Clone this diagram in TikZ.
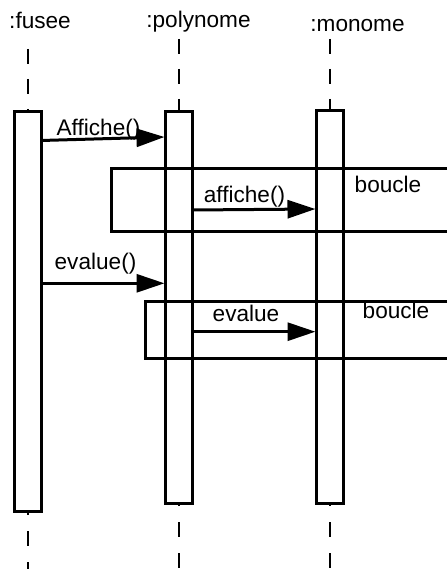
\documentclass[tikz,border=0pt]{standalone}
\usepackage{fontspec}
\setmainfont{Liberation Sans}
\usetikzlibrary{arrows.meta}
\begin{document}
\begin{tikzpicture}[x=1pt,y=-1pt,
  lbl/.style={font=\fontsize{22.6}{26}\selectfont, inner sep=0pt, anchor=base},
  life/.style={line width=2.4pt, dash pattern=on 15pt off 15pt},
  lifelow/.style={line width=2.4pt, dash pattern=on 15pt off 16pt},
  act/.style={draw, line width=3pt, fill=white, inner sep=0pt},
  msg/.style={line width=3pt, -{Triangle[length=28pt,width=18pt]}},
  loopbox/.style={line width=3pt}]
\useasboundingbox (0,0) rectangle (447,569);
\fill[white] (0,0) rectangle (447,569);
% titles
\node[lbl] (tf) at (40,28.5) {:fusee};
\node[lbl] (tp) at (198.5,28) {:polynome};
\node[lbl] (tm) at (357.5,31.5) {:monome};
% lifelines
\coordinate (lf1) at (27.7,49);   \coordinate (lf2) at (27.7,112);
\coordinate (lf3) at (27.7,500);  \coordinate (lf4) at (27.7,569);
\coordinate (lp1) at (179,39);    \coordinate (lp2) at (179,111);
\coordinate (lp3) at (179,491);   \coordinate (lp4) at (179,569);
\coordinate (lm1) at (330,39);    \coordinate (lm2) at (330,110);
\coordinate (lm3) at (330,491);   \coordinate (lm4) at (330,569);
\draw[life] (lf1) -- (lf2);
\draw[lifelow] (lf3) -- (lf4);
\draw[life] (lp1) -- (lp2);
\draw[lifelow] (lp3) -- (lp4);
\draw[life] (lm1) -- (lm2);
\draw[lifelow] (lm3) -- (lm4);
% activation boxes
\node[act, minimum width=26.7pt, minimum height=399pt] (fb) at (27.65,311.5) {};
\node[act, minimum width=26.8pt, minimum height=391.8pt] (pb) at (178.9,307.4) {};
\node[act, minimum width=26.5pt, minimum height=393pt] (mb) at (330.05,307) {};
% loop boxes
\draw[loopbox] (447,169) -- (111.5,169) -- (111.5,231.7) -- (447,231.7);
\draw[loopbox] (447,301.7) -- (145.7,301.7) -- (145.7,358.3) -- (447,358.3);
\node[lbl] (b1) at (388,193) {boucle};
\node[lbl] (b2) at (396,318) {boucle};
% messages
\coordinate (m1s) at (41,140.5);  \coordinate (m1e) at (164.5,137);
\coordinate (m2s) at (192.3,210); \coordinate (m2e) at (315.5,209);
\coordinate (m3s) at (41,283.3);  \coordinate (m3e) at (164.5,283.3);
\coordinate (m4s) at (192.3,331.7); \coordinate (m4e) at (315.5,331.7);
\draw[msg] (m1s) -- (m1e);
\draw[msg] (m2s) -- (m2e);
\draw[msg] (m3s) -- (m3e);
\draw[msg] (m4s) -- (m4e);
\node[lbl] (l1) at (98.5,136) {Affiche()};
\node[lbl] (l2) at (244.5,203) {affiche()};
\node[lbl] (l3) at (95.5,269) {evalue()};
\node[lbl] (l4) at (246,321.5) {evalue};
\end{tikzpicture}
\end{document}
